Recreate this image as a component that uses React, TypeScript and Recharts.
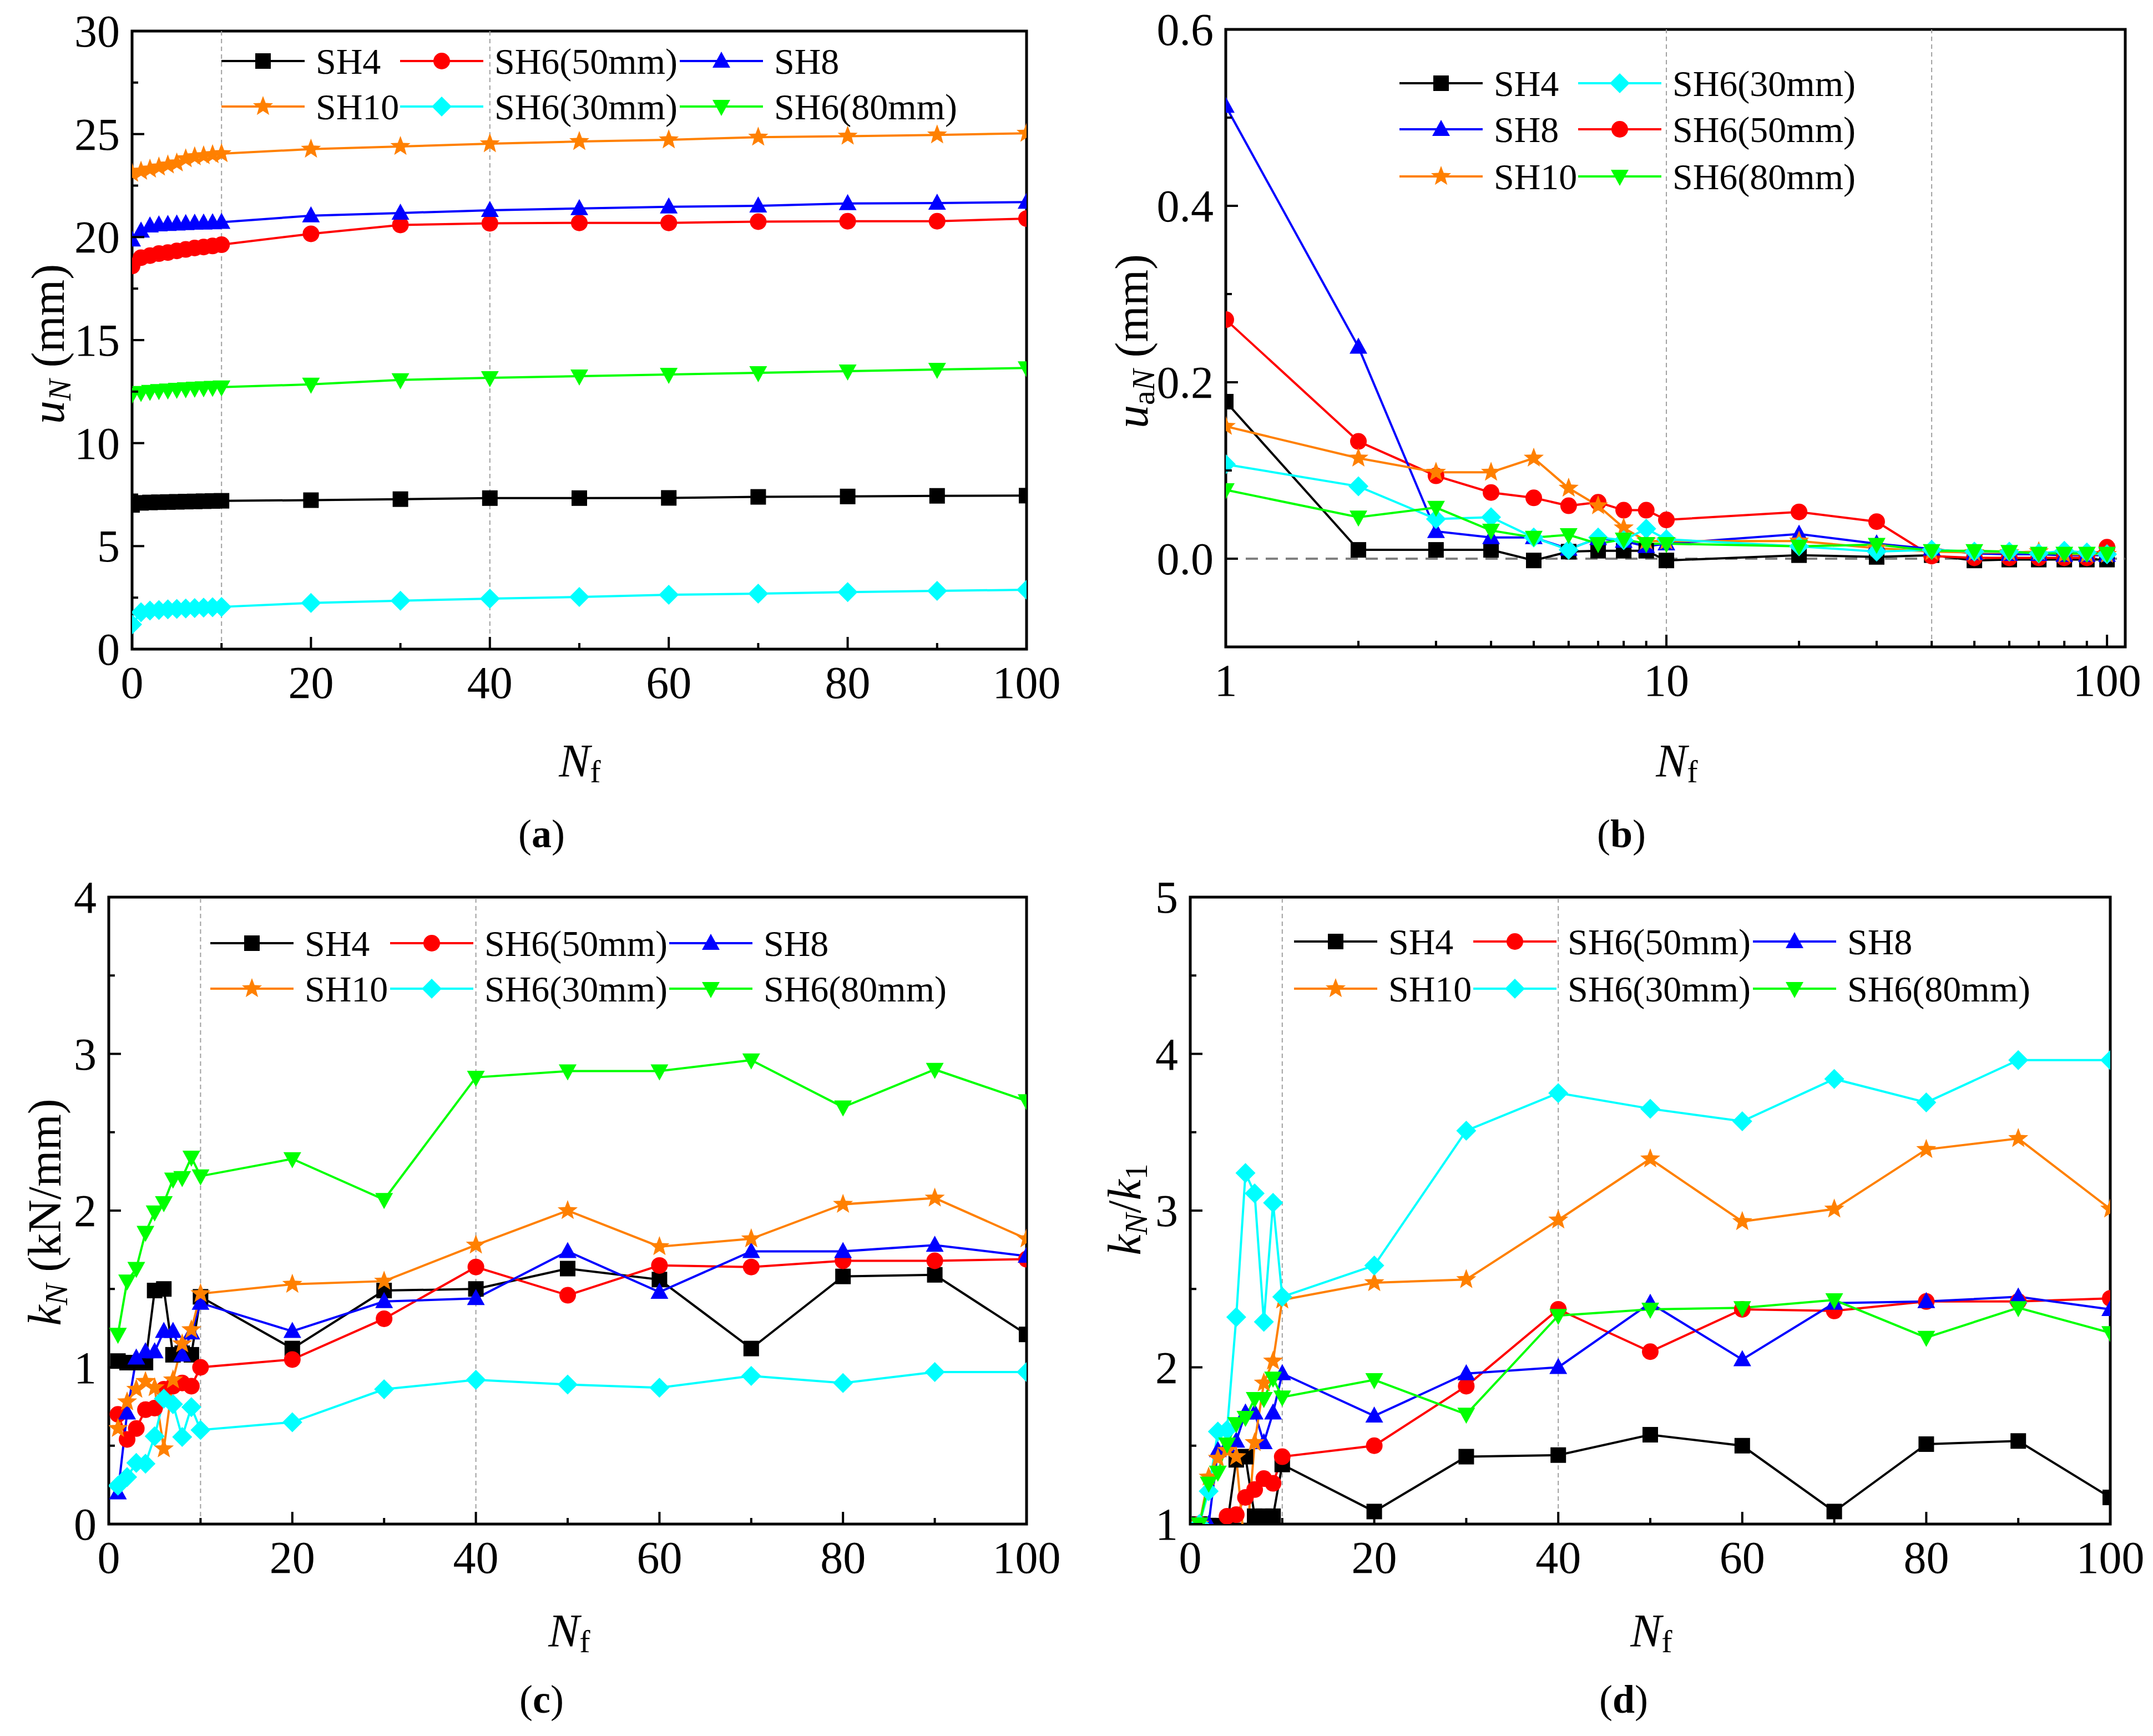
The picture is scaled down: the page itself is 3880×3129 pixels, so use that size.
import React from 'react';
import { LineChart, Line, XAxis, YAxis, ReferenceLine, ReferenceArea } from 'recharts';

const PAGE_W = 3880;
const PAGE_H = 3129;
const FONT = '"Liberation Serif", "Times New Roman", serif';

// loading cycles
const cyclesA = [0, 1, 2, 3, 4, 5, 6, 7, 8, 9, 10, 20, 30, 40, 50, 60, 70, 80, 90, 100];
const cycles = [1, 2, 3, 4, 5, 6, 7, 8, 9, 10, 20, 30, 40, 50, 60, 70, 80, 90, 100];

// (a) u_N (mm)
const uSH4 = [7.0, 7.1, 7.12, 7.13, 7.14, 7.15, 7.16, 7.17, 7.18, 7.19, 7.2, 7.23, 7.28, 7.33, 7.33, 7.34, 7.39, 7.41, 7.44, 7.45];
const uSH6_50 = [18.6, 19.0, 19.1, 19.2, 19.25, 19.33, 19.4, 19.47, 19.52, 19.57, 19.63, 20.16, 20.59, 20.67, 20.69, 20.69, 20.75, 20.77, 20.77, 20.9];
const uSH8 = [19.87, 20.3, 20.55, 20.6, 20.62, 20.64, 20.66, 20.68, 20.69, 20.7, 20.72, 21.04, 21.17, 21.3, 21.39, 21.47, 21.52, 21.63, 21.65, 21.7];
const uSH10 = [23.1, 23.2, 23.3, 23.4, 23.5, 23.6, 23.8, 23.9, 23.95, 24.0, 24.05, 24.27, 24.4, 24.53, 24.64, 24.72, 24.85, 24.9, 24.96, 25.04];
const uSH6_30 = [1.2, 1.79, 1.87, 1.9, 1.93, 1.95, 1.97, 1.99, 2.01, 2.03, 2.05, 2.24, 2.35, 2.45, 2.53, 2.64, 2.69, 2.77, 2.83, 2.88];
const uSH6_80 = [12.37, 12.45, 12.5, 12.54, 12.57, 12.6, 12.63, 12.66, 12.68, 12.7, 12.72, 12.85, 13.07, 13.17, 13.25, 13.33, 13.41, 13.49, 13.57, 13.65];

// (b) u_aN (mm)
const uaSH4 = [0.178, 0.01, 0.01, 0.01, -0.002, 0.008, 0.009, 0.009, 0.009, -0.002, 0.004, 0.002, 0.004, -0.002, -0.001, -0.001, -0.001, -0.001, -0.001];
const uaSH8 = [0.513, 0.24, 0.031, 0.024, 0.024, 0.011, 0.023, 0.02, 0.014, 0.017, 0.028, 0.017, 0.011, 0.006, 0.005, 0.005, 0.004, 0.004, 0.004];
const uaSH10 = [0.15, 0.114, 0.098, 0.098, 0.114, 0.08, 0.06, 0.035, 0.02, 0.02, 0.02, 0.012, 0.008, 0.007, 0.007, 0.008, 0.005, 0.005, 0.005];
const uaSH6_30 = [0.107, 0.082, 0.045, 0.047, 0.024, 0.01, 0.024, 0.021, 0.034, 0.022, 0.014, 0.008, 0.01, 0.008, 0.008, 0.006, 0.009, 0.007, 0.005];
const uaSH6_50 = [0.271, 0.133, 0.094, 0.075, 0.069, 0.06, 0.064, 0.055, 0.055, 0.044, 0.053, 0.042, 0.003, 0.001, 0.001, 0.001, 0.001, 0.001, 0.013];
const uaSH6_80 = [0.078, 0.047, 0.058, 0.032, 0.024, 0.027, 0.017, 0.022, 0.017, 0.017, 0.014, 0.016, 0.009, 0.009, 0.008, 0.006, 0.006, 0.006, 0.006];

// (c) k_N (kN/mm)
const kSH4 = [1.04, 1.03, 1.03, 1.03, 1.49, 1.5, 1.08, 1.09, 1.08, 1.45, 1.12, 1.49, 1.5, 1.63, 1.56, 1.12, 1.58, 1.59, 1.21];
const kSH6_50 = [0.7, 0.54, 0.61, 0.73, 0.74, 0.86, 0.88, 0.9, 0.88, 1.0, 1.05, 1.31, 1.64, 1.46, 1.65, 1.64, 1.68, 1.68, 1.69];
const kSH8 = [0.2, 0.71, 1.06, 1.1, 1.1, 1.23, 1.23, 1.08, 1.22, 1.41, 1.23, 1.42, 1.44, 1.74, 1.48, 1.74, 1.74, 1.78, 1.71];
const kSH10 = [0.61, 0.78, 0.86, 0.91, 0.87, 0.48, 0.92, 1.15, 1.24, 1.47, 1.53, 1.55, 1.78, 2.0, 1.77, 1.82, 2.04, 2.08, 1.82];
const kSH6_30 = [0.245, 0.3, 0.39, 0.385, 0.56, 0.8, 0.765, 0.556, 0.746, 0.6, 0.65, 0.86, 0.92, 0.89, 0.87, 0.945, 0.9, 0.97, 0.97];
const kSH6_80 = [1.21, 1.55, 1.63, 1.86, 1.99, 2.05, 2.2, 2.21, 2.34, 2.22, 2.33, 2.07, 2.85, 2.89, 2.89, 2.96, 2.66, 2.9, 2.7];

// (d) k_N / k_1
const rSH4 = [1.0, 0.99, 0.99, 0.99, 1.41, 1.43, 1.05, 1.05, 1.05, 1.38, 1.08, 1.43, 1.44, 1.57, 1.5, 1.08, 1.51, 1.53, 1.17];
const rSH6_50 = [1.0, 0.77, 0.87, 1.05, 1.06, 1.17, 1.22, 1.29, 1.26, 1.43, 1.5, 1.88, 2.37, 2.1, 2.37, 2.36, 2.42, 2.42, 2.44];
const rSH8 = [1.0, 1.0, 1.47, 1.5, 1.53, 1.71, 1.71, 1.52, 1.71, 1.96, 1.69, 1.96, 2.0, 2.41, 2.05, 2.41, 2.42, 2.45, 2.37];
const rSH10 = [1.0, 1.3, 1.42, 1.47, 1.43, 0.79, 1.52, 1.9, 2.04, 2.43, 2.54, 2.56, 2.94, 3.33, 2.93, 3.01, 3.39, 3.46, 3.01];
const rSH6_30 = [1.0, 1.21, 1.59, 1.6, 2.32, 3.24, 3.11, 2.29, 3.05, 2.45, 2.65, 3.51, 3.75, 3.65, 3.57, 3.84, 3.69, 3.96, 3.96];
const rSH6_80 = [1.0, 1.26, 1.33, 1.51, 1.64, 1.68, 1.8, 1.8, 1.93, 1.81, 1.92, 1.7, 2.33, 2.37, 2.38, 2.43, 2.19, 2.38, 2.22];

// tick values
const xTicksLin = [0, 10, 20, 30, 40, 50, 60, 70, 80, 90, 100];
const xMajorsLin = [0, 20, 40, 60, 80, 100];
const xTicksLog = [1, 2, 3, 4, 5, 6, 7, 8, 9, 10, 20, 30, 40, 50, 60, 70, 80, 90, 100];
const xMajorsLog = [1, 10, 100];
const yTicksA = [0, 2.5, 5, 7.5, 10, 12.5, 15, 17.5, 20, 22.5, 25, 27.5, 30];
const yMajorsA = [0, 5, 10, 15, 20, 25, 30];
const yTicksB = [-0.1, 0, 0.1, 0.2, 0.3, 0.4, 0.5, 0.6];
const yMajorsB = [0, 0.2, 0.4, 0.6];
const yTicksC = [0, 0.5, 1, 1.5, 2, 2.5, 3, 3.5, 4];
const yMajorsC = [0, 1, 2, 3, 4];
const yTicksD = [1, 1.5, 2, 2.5, 3, 3.5, 4, 4.5, 5];
const yMajorsD = [1, 2, 3, 4, 5];

type Shape = 'square' | 'circle' | 'up' | 'star' | 'diamond' | 'down';
const STYLE: Record<string, { name: string; color: string; shape: Shape }> = {
  SH4: { name: 'SH4', color: '#000000', shape: 'square' },
  SH6_50: { name: 'SH6(50mm)', color: '#FF0000', shape: 'circle' },
  SH8: { name: 'SH8', color: '#0000FF', shape: 'up' },
  SH10: { name: 'SH10', color: '#FF8000', shape: 'star' },
  SH6_30: { name: 'SH6(30mm)', color: '#00FFFF', shape: 'diamond' },
  SH6_80: { name: 'SH6(80mm)', color: '#00FF00', shape: 'down' },
};
const ORDER = ['SH4', 'SH6_50', 'SH8', 'SH10', 'SH6_30', 'SH6_80'];

const buildRows = (n: number[], cols: Record<string, number[]>) =>
  n.map((v, i) => {
    const row: Record<string, number> = { n: v };
    Object.keys(cols).forEach((k) => (row[k] = cols[k][i]));
    return row;
  });

const dataA = buildRows(cyclesA, { SH4: uSH4, SH6_50: uSH6_50, SH8: uSH8, SH10: uSH10, SH6_30: uSH6_30, SH6_80: uSH6_80 });
const dataB = buildRows(cycles, { SH4: uaSH4, SH6_50: uaSH6_50, SH8: uaSH8, SH10: uaSH10, SH6_30: uaSH6_30, SH6_80: uaSH6_80 });
const dataC = buildRows(cycles, { SH4: kSH4, SH6_50: kSH6_50, SH8: kSH8, SH10: kSH10, SH6_30: kSH6_30, SH6_80: kSH6_80 });
const dataD = buildRows(cycles, { SH4: rSH4, SH6_50: rSH6_50, SH8: rSH8, SH10: rSH10, SH6_30: rSH6_30, SH6_80: rSH6_80 });

const Marker = ({ shape, x, y, color }: { shape: Shape; x: number; y: number; color: string }) => {
  switch (shape) {
    case 'square':
      return <rect x={x - 14} y={y - 14} width={28} height={28} fill={color} />;
    case 'circle':
      return <circle cx={x} cy={y} r={15} fill={color} />;
    case 'up':
      return <polygon points={`${x},${y - 17} ${x - 16},${y + 12} ${x + 16},${y + 12}`} fill={color} />;
    case 'down':
      return <polygon points={`${x - 16},${y - 12} ${x + 16},${y - 12} ${x},${y + 17}`} fill={color} />;
    case 'diamond':
      return <polygon points={`${x},${y - 18} ${x + 18},${y} ${x},${y + 18} ${x - 18},${y}`} fill={color} />;
    case 'star': {
      const pts: string[] = [];
      for (let i = 0; i < 10; i++) {
        const r = i % 2 === 0 ? 19 : 8;
        const a = -Math.PI / 2 + (i * Math.PI) / 5;
        pts.push(`${x + r * Math.cos(a)},${y + r * Math.sin(a)}`);
      }
      return <polygon points={pts.join(' ')} fill={color} />;
    }
  }
  return null;
};

const makeDot = (shape: Shape, color: string) => (props: any) => {
  const { cx, cy, index } = props;
  if (cx == null || cy == null || isNaN(cy)) return <g key={`d-${index}`} />;
  return <Marker key={`d-${index}`} shape={shape} x={cx} y={cy} color={color} />;
};

type Cfg = {
  id: string;
  plot: { l: number; r: number; t: number; b: number };
  data: Record<string, number>[];
  logX: boolean;
  xDomain: [number, number];
  xTicks: number[];
  xMajors: number[];
  yDomain: [number, number];
  yTicks: number[];
  yMajors: number[];
  yFmt: (v: number) => string;
  zeroLine: boolean;
  legend: { x: number[]; y: number[]; rows: string[][] };
  yLabel: { x: number; y: number; node: React.ReactNode };
  nLabel: { x: number; y: number };
  caption: { x: number; y: number; letter: string };
};

const TICK_FS = 82;
const LEG_FS = 66;
const LAB_FS = 84;
const SUB_FS = 58;

const panels: Cfg[] = [
  {
    id: 'a',
    plot: { l: 238, r: 1850, t: 56, b: 1170 },
    data: dataA,
    logX: false,
    xDomain: [0, 100],
    xTicks: xTicksLin,
    xMajors: xMajorsLin,
    yDomain: [0, 30],
    yTicks: yTicksA,
    yMajors: yMajorsA,
    yFmt: (v) => String(v),
    zeroLine: false,
    legend: { x: [399, 721, 1225], y: [110, 192], rows: [['SH4', 'SH6_50', 'SH8'], ['SH10', 'SH6_30', 'SH6_80']] },
    yLabel: {
      x: 87,
      y: 620,
      node: (
        <>
          <tspan fontStyle="italic">u</tspan>
          <tspan fontStyle="italic" fontSize={SUB_FS} dy={12}>N</tspan>
          <tspan dy={-12}> (mm)</tspan>
        </>
      ),
    },
    nLabel: { x: 1045, y: 1400 },
    caption: { x: 976, y: 1527, letter: 'a' },
  },
  {
    id: 'b',
    plot: { l: 2209, r: 3830, t: 53, b: 1166 },
    data: dataB,
    logX: true,
    xDomain: [1, 110],
    xTicks: xTicksLog,
    xMajors: xMajorsLog,
    yDomain: [-0.1, 0.6],
    yTicks: yTicksB,
    yMajors: yMajorsB,
    yFmt: (v) => v.toFixed(1),
    zeroLine: true,
    legend: { x: [2522, 2844], y: [150, 233, 318], rows: [['SH4', 'SH6_30'], ['SH8', 'SH6_50'], ['SH10', 'SH6_80']] },
    yLabel: {
      x: 2040,
      y: 615,
      node: (
        <>
          <tspan fontStyle="italic">u</tspan>
          <tspan fontSize={SUB_FS} dy={12}>a</tspan>
          <tspan fontStyle="italic" fontSize={SUB_FS}>N</tspan>
          <tspan dy={-12}> (mm)</tspan>
        </>
      ),
    },
    nLabel: { x: 3022, y: 1400 },
    caption: { x: 2922, y: 1527, letter: 'b' },
  },
  {
    id: 'c',
    plot: { l: 196, r: 1850, t: 1617, b: 2747 },
    data: dataC,
    logX: false,
    xDomain: [0, 100],
    xTicks: xTicksLin,
    xMajors: xMajorsLin,
    yDomain: [0, 4],
    yTicks: yTicksC,
    yMajors: yMajorsC,
    yFmt: (v) => String(v),
    zeroLine: false,
    legend: { x: [379, 703, 1206], y: [1700, 1782], rows: [['SH4', 'SH6_50', 'SH8'], ['SH10', 'SH6_30', 'SH6_80']] },
    yLabel: {
      x: 81,
      y: 2185,
      node: (
        <>
          <tspan fontStyle="italic">k</tspan>
          <tspan fontStyle="italic" fontSize={SUB_FS} dy={12}>N</tspan>
          <tspan dy={-12}> (kN/mm)</tspan>
        </>
      ),
    },
    nLabel: { x: 1026, y: 2968 },
    caption: { x: 976, y: 3087, letter: 'c' },
  },
  {
    id: 'd',
    plot: { l: 2145, r: 3803, t: 1617, b: 2747 },
    data: dataD,
    logX: false,
    xDomain: [0, 100],
    xTicks: xTicksLin,
    xMajors: xMajorsLin,
    yDomain: [1, 5],
    yTicks: yTicksD,
    yMajors: yMajorsD,
    yFmt: (v) => String(v),
    zeroLine: false,
    legend: { x: [2332, 2655, 3159], y: [1697, 1782], rows: [['SH4', 'SH6_50', 'SH8'], ['SH10', 'SH6_30', 'SH6_80']] },
    yLabel: {
      x: 2027,
      y: 2180,
      node: (
        <>
          <tspan fontStyle="italic">k</tspan>
          <tspan fontStyle="italic" fontSize={SUB_FS} dy={12}>N</tspan>
          <tspan dy={-12}>/</tspan>
          <tspan fontStyle="italic">k</tspan>
          <tspan fontSize={SUB_FS} dy={12}>1</tspan>
        </>
      ),
    },
    nLabel: { x: 2976, y: 2968 },
    caption: { x: 2926, y: 3087, letter: 'd' },
  },
];

function Panel({ cfg }: { cfg: Cfg }) {
  const { plot } = cfg;
  const margin = {
    left: plot.l - 40,
    top: plot.t,
    right: PAGE_W - plot.r,
    bottom: PAGE_H - plot.b - 40,
  };

  const xTick = (p: any) => {
    const v = p.payload.value;
    const major = cfg.xMajors.includes(v);
    const x = p.x;
    return (
      <g key={`xt-${v}`}>
        <line x1={x} x2={x} y1={plot.b} y2={plot.b - (major ? 22 : 11)} stroke="#000" strokeWidth={4} />
        {major && (
          <text x={x} y={plot.b + 88} textAnchor="middle" fontSize={TICK_FS} fontFamily={FONT} fill="#000">
            {v}
          </text>
        )}
      </g>
    );
  };

  const yTick = (p: any) => {
    const v = p.payload.value;
    const major = cfg.yMajors.includes(v);
    const y = p.y;
    return (
      <g key={`yt-${v}`}>
        <line x1={plot.l} x2={plot.l + (major ? 22 : 11)} y1={y} y2={y} stroke="#000" strokeWidth={4} />
        {major && (
          <text x={plot.l - 22} y={y + 28} textAnchor="end" fontSize={TICK_FS} fontFamily={FONT} fill="#000">
            {cfg.yFmt(v)}
          </text>
        )}
      </g>
    );
  };

  return (
    <div style={{ position: 'absolute', left: 0, top: 0 }}>
      <LineChart width={PAGE_W} height={PAGE_H} data={cfg.data} margin={margin}>
        <XAxis
          dataKey="n"
          type="number"
          scale={cfg.logX ? 'log' : 'linear'}
          domain={cfg.xDomain}
          ticks={cfg.xTicks}
          interval={0}
          allowDataOverflow
          height={40}
          axisLine={false}
          tickLine={false}
          tick={xTick}
        />
        <YAxis
          type="number"
          domain={cfg.yDomain}
          ticks={cfg.yTicks}
          interval={0}
          allowDataOverflow
          width={40}
          axisLine={false}
          tickLine={false}
          tick={yTick}
        />
        <ReferenceLine x={10} stroke="#a0a0a0" strokeWidth={2} strokeDasharray="8 6" />
        <ReferenceLine x={40} stroke="#a0a0a0" strokeWidth={2} strokeDasharray="8 6" />
        {cfg.zeroLine && <ReferenceLine y={0} stroke="#808080" strokeWidth={4} strokeDasharray="22 14" />}
        {ORDER.map((k) => (
          <Line
            key={k}
            dataKey={k}
            type="linear"
            stroke={STYLE[k].color}
            strokeWidth={4}
            dot={makeDot(STYLE[k].shape, STYLE[k].color)}
            activeDot={false}
            isAnimationActive={false}
          />
        ))}
        <ReferenceArea
          x1={cfg.xDomain[0]}
          x2={cfg.xDomain[1]}
          y1={cfg.yDomain[0]}
          y2={cfg.yDomain[1]}
          fill="none"
          fillOpacity={0}
          stroke="#000"
          strokeWidth={5}
          ifOverflow="visible"
        />
      </LineChart>
    </div>
  );
}

function Overlay() {
  return (
    <svg width={PAGE_W} height={PAGE_H} style={{ position: 'absolute', left: 0, top: 0, pointerEvents: 'none' }} fontFamily={FONT}>
      {panels.map((cfg) => (
        <g key={cfg.id}>
          {cfg.legend.rows.map((row, ri) =>
            row.map((k, ci) => {
              const x = cfg.legend.x[ci];
              const y = cfg.legend.y[ri];
              const st = STYLE[k];
              return (
                <g key={`${cfg.id}-${k}`}>
                  <line x1={x} x2={x + 150} y1={y} y2={y} stroke={st.color} strokeWidth={4} />
                  <Marker shape={st.shape} x={x + 75} y={y} color={st.color} />
                  <text x={x + 170} y={y + 23} fontSize={LEG_FS} fill="#000">
                    {st.name}
                  </text>
                </g>
              );
            })
          )}
          <text
            transform={`translate(${cfg.yLabel.x},${cfg.yLabel.y}) rotate(-90)`}
            textAnchor="middle"
            dy={28}
            fontSize={LAB_FS}
            fill="#000"
          >
            {cfg.yLabel.node}
          </text>
          <text x={cfg.nLabel.x} y={cfg.nLabel.y} textAnchor="middle" fontSize={LAB_FS} fill="#000">
            <tspan fontStyle="italic">N</tspan>
            <tspan fontSize={SUB_FS} dy={10}>f</tspan>
          </text>
          <text x={cfg.caption.x} y={cfg.caption.y} textAnchor="middle" fontSize={72} fill="#000">
            <tspan>(</tspan>
            <tspan fontWeight="bold">{cfg.caption.letter}</tspan>
            <tspan>)</tspan>
          </text>
        </g>
      ))}
    </svg>
  );
}

export default function App() {
  return (
    <div style={{ position: 'absolute', left: 0, top: 0, width: PAGE_W, height: PAGE_H, background: '#fff', fontFamily: FONT }}>
      {panels.map((cfg) => (
        <Panel key={cfg.id} cfg={cfg} />
      ))}
      <Overlay />
    </div>
  );
}
